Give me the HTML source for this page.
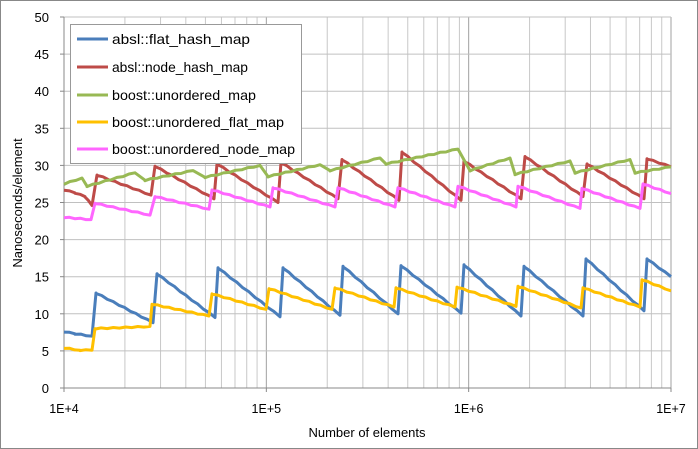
<!DOCTYPE html><html><head><style>body{margin:0;background:#fff}svg{display:block;font-family:"Liberation Sans",sans-serif}</style></head><body>
<svg id="s" width="698" height="449" xmlns="http://www.w3.org/2000/svg">
<rect x="0.5" y="0.5" width="697" height="448" fill="#fff" stroke="#888"/>
<g id="grid"></g>
<g id="series"></g>
<rect x="70.5" y="24.5" width="231" height="139" fill="#fff" stroke="#999"/>
<g font-size="14" fill="#000">
<line x1="77" y1="39" x2="108" y2="39" stroke="#4a7ebb" stroke-width="3"/><text x="112" y="44" textLength="138" lengthAdjust="spacingAndGlyphs">absl::flat_hash_map</text>
<line x1="77" y1="67" x2="108" y2="67" stroke="#be4b48" stroke-width="3"/><text x="112" y="72" textLength="136" lengthAdjust="spacingAndGlyphs">absl::node_hash_map</text>
<line x1="77" y1="95" x2="108" y2="95" stroke="#98b954" stroke-width="3"/><text x="112" y="100" textLength="144" lengthAdjust="spacingAndGlyphs">boost::unordered_map</text>
<line x1="77" y1="122" x2="108" y2="122" stroke="#ffc000" stroke-width="3"/><text x="112" y="127" textLength="172" lengthAdjust="spacingAndGlyphs">boost::unordered_flat_map</text>
<line x1="77" y1="149" x2="108" y2="149" stroke="#ff66ff" stroke-width="3"/><text x="112" y="154" textLength="183" lengthAdjust="spacingAndGlyphs">boost::unordered_node_map</text>
</g>
<text x="367" y="437" font-size="13" text-anchor="middle">Number of elements</text>
<text transform="translate(22,203) rotate(-90)" font-size="13" text-anchor="middle">Nanoseconds/element</text>
</svg>
<script>
const NS="http://www.w3.org/2000/svg";
const g=document.getElementById('grid'),sr=document.getElementById('series'),s=document.getElementById('s');
function el(p,t,a,txt){const e=document.createElementNS(NS,t);for(const k in a)e.setAttribute(k,a[k]);if(txt!==undefined)e.textContent=txt;p.appendChild(e);return e;}
const X0=64,X1=671,Y0=388,Y1=17;
const yv=v=>Y0-(Y0-Y1)*v/50;
const dec=(X1-X0)/3;
for(let d=0;d<3;d++)for(let m=2;m<=9;m++){const x=X0+dec*(d+Math.log10(m));el(g,'line',{x1:x,y1:Y1,x2:x,y2:Y0,stroke:'#c8c8c8','stroke-width':1});}
for(let d=1;d<=3;d++){const x=X0+dec*d;el(g,'line',{x1:x,y1:Y1,x2:x,y2:Y0,stroke:'#a0a0a0','stroke-width':1});}
for(let v=5;v<=50;v+=5)el(g,'line',{x1:X0,y1:yv(v),x2:X1,y2:yv(v),stroke:'#c0c0c0','stroke-width':1});
el(g,'line',{x1:X0,y1:Y1,x2:X0,y2:Y0,stroke:'#888'});
el(g,'line',{x1:X0,y1:Y0,x2:X1,y2:Y0,stroke:'#888'});
for(let v=0;v<=50;v+=5){el(g,'line',{x1:X0-4,y1:yv(v),x2:X0,y2:yv(v),stroke:'#888'});el(g,'text',{x:49,y:yv(v)+5,'font-size':'13','text-anchor':'end'},String(v));}
['1E+4','1E+5','1E+6','1E+7'].forEach((t,i)=>{const x=X0+dec*i;el(g,'line',{x1:x,y1:Y0,x2:x,y2:Y0+4,stroke:'#888'});el(g,'text',{x:x,y:413,'font-size':'12.5','text-anchor':'middle'},t);});
function saw(pts){let p=[];for(let i=0;i<pts.length-1;i++){const[a,b]=[pts[i],pts[i+1]];if(b[2])p.push([a[0],a[1]],[b[0],b[1]]);else{const n=Math.max(2,Math.round((b[0]-a[0])/6));for(let k=0;k<n;k++){const t=k/n;p.push([a[0]+(b[0]-a[0])*t,a[1]+(b[1]-a[1])*t+(k%2?0.06:-0.06)]);}}}p.push(pts[pts.length-1]);return p;}
function draw(pts,c){const p=saw(pts).map(q=>q[0].toFixed(1)+','+yv(q[1]).toFixed(1)).join(' ');el(sr,'polyline',{points:p,fill:'none',stroke:c,'stroke-width':3,'stroke-linejoin':'round'});}
function build(start,segs,end){const a=[start];segs.forEach(s=>{a.push([s[0],s[1]]);a.push([s[2],s[3],1]);});a.push(end);return a;}
draw(build([64,7.6],[[75,7.3],[92,7.0,96,12.8],[153,8.8,157,15.4],[215,9.5,218,16.2],[280,9.6,283,16.2],[340,9.8,343,16.4],[398,10,401,16.5],[461,10.1,464,16.6],[521,9.7,524,16.4],[583,9.7,586,17.4],[644,10.4,647,17.4]].map(s=>s.length==2?[s[0],s[1],s[0],s[1]]:s),[671,15]),'#4a7ebb');
draw(build([64,26.7],[[75,26.3],[85,25.8],[92,24.6,97,28.7],[151,26,155,29.9],[214,25.5,217,30.2],[278,25,281,30.4],[338,25.5,342,30.8],[399,25.3,402,31.8],[461,25.3,464,30.6],[521,25.5,525,31.2],[583,25.8,587,30.2],[644,25.5,647,30.9]].map(s=>s.length==2?[s[0],s[1],s[0],s[1]]:s),[671,29.8]),'#be4b48');
draw(build([64,27.5],[[82,28.3,87,27.2],[135,29,145,28],[193,29.3,205,28.4],[260,30,268,28.5],[320,30.1,330,29.3],[380,31,386,30.2],[458,32.2,470,29.3],[510,31,515,28.8],[570,30.6,575,29],[630,30.8,635,29]],[671,29.8]),'#98b954');
draw(build([64,5.4],[[80,5.1],[92,5.1,95,8],[150,8.3,152,11.3],[209,9.7,212,12.7],[266,10.6,269,13.4],[332,10.6,335,13.5],[394,10.9,396,13.5],[455,10.9,457,13.6],[516,11,518,13.7],[581,10.8,583,13.5],[640,10.9,642,14.6]].map(s=>s.length==2?[s[0],s[1],s[0],s[1]]:s),[671,13.1]),'#ffc000');
draw(build([64,23],[[91,22.7,95,24.9],[150,23.3,155,25.8],[209,24.1,212,26.7],[270,24.4,273,27],[335,24.4,338,27],[395,24.4,398,27],[455,24.4,458,27.2],[516,24.4,518,27.2],[580,24.2,582,26.9],[640,24.2,643,27.5]],[671,26.2]),'#ff66ff');
</script>
</body></html>
